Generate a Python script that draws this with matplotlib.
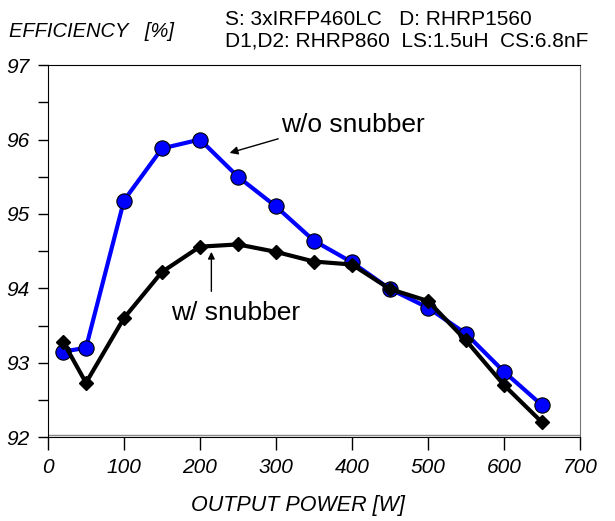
import matplotlib.pyplot as plt
import numpy as np

# output power [W]
power = [20, 50, 100, 150, 200, 250, 300, 350, 400, 450, 500, 550, 600, 650]
# efficiency [%]
eff_no_snub = [93.15, 93.2, 95.18, 95.88, 96.0, 95.5, 95.1, 94.64, 94.35, 93.99, 93.74, 93.39, 92.88, 92.43]
eff_snub = [93.28, 92.73, 93.6, 94.22, 94.56, 94.59, 94.49, 94.36, 94.32, 93.99, 93.83, 93.3, 92.7, 92.2]

xticks = [0, 100, 200, 300, 400, 500, 600, 700]
yticks = [92, 93, 94, 95, 96, 97]

fig = plt.figure(figsize=(6.15, 5.21), dpi=100)
ax = fig.add_axes([0.078, 0.161, 0.865, 0.714])

ax.plot(power, eff_no_snub, color='#0000ff', lw=3, marker='o', ms=11,
        mfc='#0000ff', mec='black', mew=0.8, zorder=3)
ax.plot(power, eff_snub, color='black', lw=3, marker='D', ms=7.5,
        mfc='black', mec='black', zorder=4)
ax.axhline(92.03, color='#888888', lw=1, zorder=1)

ax.set_xlim(0, 700)
ax.set_ylim(92, 97)
ax.set_xticks(xticks)
ax.set_yticks(yticks)
ax.set_yticks(np.arange(92.5, 97, 1), minor=True)
ax.tick_params(axis='both', which='both', direction='out', length=7, width=1)
ax.tick_params(axis='x', length=9, pad=6)
ax.tick_params(axis='y', pad=6)
for lab in ax.get_xticklabels() + ax.get_yticklabels():
    lab.set_fontstyle('italic')
    lab.set_fontsize(15)
    lab.set_family('Liberation Sans')
ax.spines['right'].set_color('#777777')

ax.annotate('', xy=(239, 95.82), xytext=(303, 96.01),
            arrowprops=dict(arrowstyle='-|>', color='black', lw=1,
                            shrinkA=0, shrinkB=0, mutation_scale=12))
ax.text(307, 96.2, 'w/o snubber', fontsize=19, family='Liberation Sans',
        va='center', ha='left')
ax.annotate('', xy=(215, 94.49), xytext=(215, 93.96),
            arrowprops=dict(arrowstyle='-|>', color='black', lw=1,
                            shrinkA=0, shrinkB=0, mutation_scale=10))
ax.text(162, 93.67, 'w/ snubber', fontsize=19, family='Liberation Sans',
        va='center', ha='left')

fig.text(0.015, 0.9386, 'EFFICIENCY   [%]', fontsize=14.5, style='italic',
         family='Liberation Sans', va='center', ha='left')
fig.text(0.366, 0.9635, 'S: 3xIRFP460LC   D: RHRP1560', fontsize=15,
         family='Liberation Sans', va='center', ha='left')
fig.text(0.366, 0.921, 'D1,D2: RHRP860  LS:1.5uH  CS:6.8nF', fontsize=15,
         family='Liberation Sans', va='center', ha='left')
fig.text(0.485, 0.029, 'OUTPUT POWER [W]', fontsize=15.5, style='italic',
         family='Liberation Sans', va='center', ha='center')

fig.savefig('out.png', dpi=100)
